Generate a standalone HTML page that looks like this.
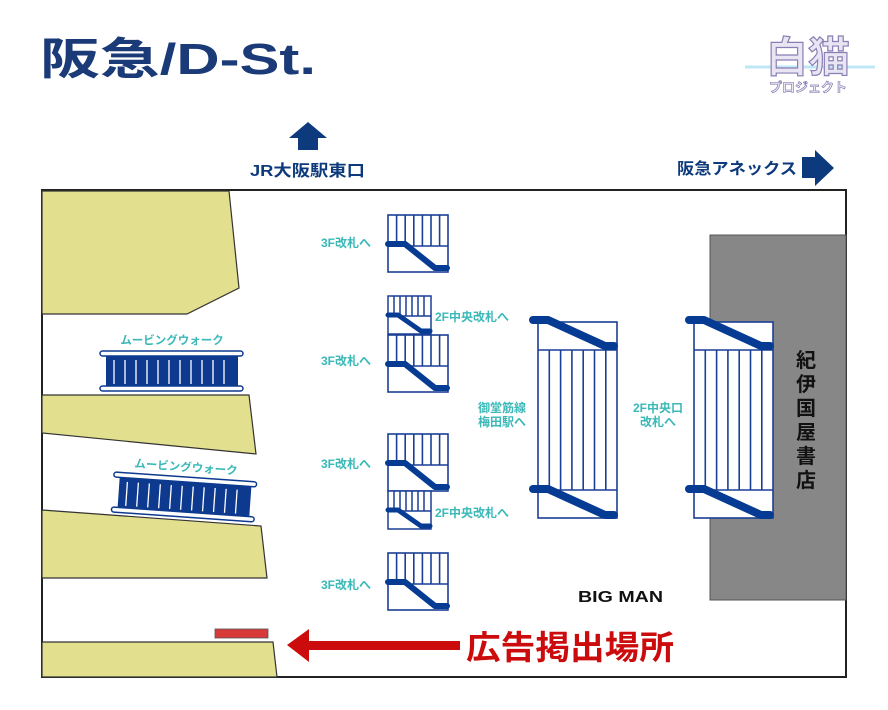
<!DOCTYPE html>
<html><head><meta charset="utf-8"><style>
html,body{margin:0;padding:0;background:#fff;}
svg{display:block;font-family:"Liberation Sans","Noto Sans CJK JP",sans-serif;}
</style></head><body>
<svg width="888" height="710" viewBox="0 0 888 710" xmlns="http://www.w3.org/2000/svg">
<defs>
<g id="st">
 <rect x="0" y="0" width="60" height="57" fill="#fff" stroke="#1a3f95" stroke-width="1.6"/>
 <line x1="0" y1="31" x2="60" y2="31" stroke="#1a3f95" stroke-width="1.6"/>
 <g stroke="#1a3f95" stroke-width="1.6">
  <line x1="8.6" y1="0" x2="8.6" y2="31"/><line x1="17.2" y1="0" x2="17.2" y2="31"/><line x1="25.8" y1="0" x2="25.8" y2="31"/><line x1="34.4" y1="0" x2="34.4" y2="31"/><line x1="43" y1="0" x2="43" y2="31"/><line x1="51.6" y1="0" x2="51.6" y2="31"/>
 </g>
 <path d="M0,29 L17,29 L47,53 L59,53" fill="none" stroke="#063b94" stroke-width="6" stroke-linecap="round" stroke-linejoin="round"/>
</g>
<g id="sn">
 <rect x="0" y="0" width="43" height="38" fill="#fff" stroke="#1a3f95" stroke-width="1.5"/>
 <line x1="0" y1="20" x2="43" y2="20" stroke="#1a3f95" stroke-width="1.5"/>
 <g stroke="#1a3f95" stroke-width="1.5">
  <line x1="6" y1="0" x2="6" y2="20"/><line x1="12" y1="0" x2="12" y2="20"/><line x1="18" y1="0" x2="18" y2="20"/><line x1="24" y1="0" x2="24" y2="20"/><line x1="30" y1="0" x2="30" y2="20"/><line x1="36" y1="0" x2="36" y2="20"/>
 </g>
 <path d="M0,19 L10,19 L33,35 L42,35" fill="none" stroke="#063b94" stroke-width="5" stroke-linecap="round" stroke-linejoin="round"/>
</g>
<g id="big">
 <rect x="0" y="0" width="79" height="196" fill="#fff" stroke="#1a3f95" stroke-width="1.6"/>
 <line x1="0" y1="28" x2="79" y2="28" stroke="#1a3f95" stroke-width="1.6"/>
 <line x1="0" y1="168" x2="79" y2="168" stroke="#1a3f95" stroke-width="1.6"/>
 <g stroke="#1a3f95" stroke-width="1.6">
  <line x1="11.3" y1="28" x2="11.3" y2="168"/><line x1="22.6" y1="28" x2="22.6" y2="168"/><line x1="33.9" y1="28" x2="33.9" y2="168"/><line x1="45.2" y1="28" x2="45.2" y2="168"/><line x1="56.5" y1="28" x2="56.5" y2="168"/><line x1="67.8" y1="28" x2="67.8" y2="168"/>
 </g>
 <path d="M-5,-2 L10,-2 L67,24 L76,24" fill="none" stroke="#063b94" stroke-width="8" stroke-linecap="round" stroke-linejoin="round"/>
 <path d="M-5,167 L10,167 L67,193 L76,193" fill="none" stroke="#063b94" stroke-width="8" stroke-linecap="round" stroke-linejoin="round"/>
</g>
<g id="mw">
 <rect x="6" y="2" width="132" height="34" fill="#0d3a8f"/>
 <g stroke="#fff" stroke-width="1.3">
  <line x1="14" y1="8" x2="14" y2="32"/><line x1="25" y1="8" x2="25" y2="32"/><line x1="36" y1="8" x2="36" y2="32"/><line x1="47" y1="8" x2="47" y2="32"/><line x1="58" y1="8" x2="58" y2="32"/><line x1="69" y1="8" x2="69" y2="32"/><line x1="80" y1="8" x2="80" y2="32"/><line x1="91" y1="8" x2="91" y2="32"/><line x1="102" y1="8" x2="102" y2="32"/><line x1="113" y1="8" x2="113" y2="32"/><line x1="124" y1="8" x2="124" y2="32"/>
 </g>
 <rect x="0" y="-1" width="143" height="5" rx="2.5" fill="#fff" stroke="#0d3a8f" stroke-width="1.5"/>
 <rect x="0" y="34" width="143" height="5" rx="2.5" fill="#fff" stroke="#0d3a8f" stroke-width="1.5"/>
</g>
</defs>

<text x="40" y="74" font-size="44" font-weight="bold" fill="#1a3a78" textLength="276" lengthAdjust="spacingAndGlyphs">阪急/D-St.</text>
<line x1="745" y1="67" x2="875" y2="67" stroke="#bfe8f5" stroke-width="3"/>
<text x="808" y="72" font-size="42" font-weight="bold" fill="#e9e5f2" stroke="#8a7fb5" stroke-width="1.2" text-anchor="middle">白猫</text>
<text x="808" y="92" font-size="13" font-weight="bold" fill="#ece8f6" stroke="#7b6fa8" stroke-width="0.6" text-anchor="middle">プロジェクト</text>

<path d="M308,122 L327,138 L318,138 L318,150 L298,150 L298,138 L289,138 Z" fill="#0d3a7c"/>
<text x="250" y="176" font-size="16" font-weight="bold" fill="#0d3a7c" textLength="115" lengthAdjust="spacingAndGlyphs">JR大阪駅東口</text>
<text x="677" y="174" font-size="16" font-weight="bold" fill="#0d3a7c" textLength="120" lengthAdjust="spacingAndGlyphs">阪急アネックス</text>
<path d="M802,157 L815,157 L815,150 L834,168 L815,186 L815,178 L802,178 Z" fill="#0d3a7c"/>

<rect x="42" y="190" width="804" height="487" fill="#fff" stroke="#222" stroke-width="2"/>

<g fill="#e2df8e" stroke="#333" stroke-width="1.2">
 <polygon points="42,191 229,191 239,288 187,314 42,314"/>
 <polygon points="42,395 249,395 256,454 42,433"/>
 <polygon points="42,510 261,526 267,578 42,578"/>
 <polygon points="42,642 273,642 277,677 42,677"/>
</g>

<rect x="710" y="235" width="136" height="365" fill="#878787" stroke="#555" stroke-width="1"/>
<g font-size="20" font-weight="bold" fill="#111" text-anchor="middle">
 <text x="806" y="367">紀</text><text x="806" y="391">伊</text><text x="806" y="415">国</text><text x="806" y="439">屋</text><text x="806" y="463">書</text><text x="806" y="487">店</text>
</g>

<text x="172" y="344" font-size="11.5" fill="#3bb8b8" text-anchor="middle" font-weight="bold">ムービングウォーク</text>
<use href="#mw" transform="translate(100,352)"/>
<text x="186" y="471" font-size="11.5" fill="#3bb8b8" text-anchor="middle" font-weight="bold" transform="rotate(4,186,467)">ムービングウォーク</text>
<use href="#mw" transform="translate(114,473) rotate(4)"/>

<rect x="215" y="629" width="53" height="9" fill="#d83a3a" stroke="#555" stroke-width="0.8"/>

<use href="#st" transform="translate(388,215)"/>
<use href="#sn" transform="translate(388,296)"/>
<use href="#st" transform="translate(388,335)"/>
<use href="#st" transform="translate(388,434)"/>
<use href="#sn" transform="translate(388,491)"/>
<use href="#st" transform="translate(388,553)"/>
<use href="#big" transform="translate(538,322)"/>
<use href="#big" transform="translate(694,322)"/>

<g font-size="12" fill="#3bb8b8" font-weight="bold">
 <text x="321" y="247">3F改札へ</text>
 <text x="321" y="365">3F改札へ</text>
 <text x="321" y="468">3F改札へ</text>
 <text x="321" y="589">3F改札へ</text>
 <text x="435" y="321">2F中央改札へ</text>
 <text x="435" y="517">2F中央改札へ</text>
 <text x="478" y="412">御堂筋線</text>
 <text x="478" y="426">梅田駅へ</text>
 <text x="658" y="412" text-anchor="middle">2F中央口</text>
 <text x="658" y="426" text-anchor="middle">改札へ</text>
</g>

<text x="578" y="602" font-size="16" fill="#111" font-weight="bold" textLength="85" lengthAdjust="spacingAndGlyphs">BIG MAN</text>

<path d="M287,645 L309,629 L309,641 L460,641 L460,650 L309,650 L309,662 Z" fill="#cc0c0c"/>
<text x="466" y="659" font-size="33" font-weight="bold" fill="#cc0c0c" textLength="208" lengthAdjust="spacingAndGlyphs">広告掲出場所</text>
</svg>
</body></html>
